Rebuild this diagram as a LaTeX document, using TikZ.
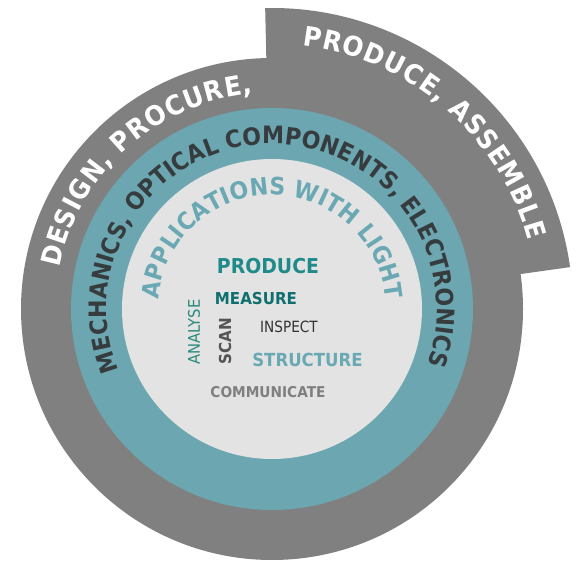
\documentclass[tikz,border=0pt]{standalone}
\usepackage{fontspec}
\setmainfont{DejaVu Sans}
\newfontfamily\cfam[FakeStretch=0.92]{DejaVu Sans}
\newfontfamily\nfam[FakeStretch=0.88]{DejaVu Sans}
\usetikzlibrary{decorations.text}
\definecolor{ringgray}{HTML}{808080}
\definecolor{ringteal}{HTML}{6BA6B1}
\definecolor{innergray}{HTML}{E3E3E3}
\definecolor{lighttext}{HTML}{6AA9B4}
\definecolor{darktext}{HTML}{363B3E}
\definecolor{tealA}{HTML}{1F8A8A}
\definecolor{tealB}{HTML}{0F6F6F}
\definecolor{tealC}{HTML}{2A8A7C}
\definecolor{scangray}{HTML}{555555}
\definecolor{inspgray}{HTML}{333333}
\definecolor{commgray}{HTML}{7F7F7F}
\begin{document}
\begin{tikzpicture}[x=1pt,y=1pt,
  arctext/.style={decorate, decoration={text along path, text align={fit to path}, #1}},
  word/.style={inner sep=0pt, outer sep=0pt}]
\useasboundingbox (0,0) rectangle (581,561);
\coordinate (c) at (272,252);
% rings
\fill[ringgray] (c) -- ++(8:301pt) arc[start angle=8, end angle=91.3, radius=301pt] -- cycle;
\fill[ringgray] (c) circle[radius=251pt];
\fill[ringteal] (c) circle[radius=201pt];
\fill[innergray] (c) circle[radius=150pt];
% curved texts
\path[arctext={text color=white, text={|\cfam\fontsize{27}{31}\selectfont\bfseries|DESIGN, PROCURE,}}]
  ([shift={(169:216pt)}]c) arc[start angle=169, end angle=95, radius=216pt];
\path[arctext={text color=white, text={|\cfam\fontsize{27}{31}\selectfont\bfseries|PRODUCE, ASSEMBLE}}]
  ([shift={(83.5:265pt)}]c) arc[start angle=83.5, end angle=15, radius=265pt];
\path[arctext={text color=darktext, text={|\cfam\fontsize{24}{28}\selectfont\bfseries|MECHANICS, OPTICAL COMPONENTS, ELECTRONICS}}]
  ([shift={(201.8:165pt)}]c) arc[start angle=201.8, end angle=-19.8, radius=165pt];
\path[arctext={text color=lighttext, text={|\cfam\fontsize{24}{28}\selectfont\bfseries|APPLICATIONS WITH LIGHT}}]
  ([shift={(175:114pt)}]c) arc[start angle=175, end angle=5, radius=114pt];
% inner words
\node[word, text=tealA, font=\cfam\fontsize{20.5}{24}\selectfont\bfseries] (produce) at (268,295) {PRODUCE};
\node[word, text=tealB, font=\cfam\fontsize{16.4}{19}\selectfont\bfseries] (measure) at (256,262.5) {MEASURE};
\node[word, text=tealC, font=\cfam\fontsize{16}{19}\selectfont, rotate=90] (analyse) at (194,229) {ANALYSE};
\node[word, text=scangray, font=\cfam\fontsize{16.5}{19}\selectfont\bfseries, rotate=90] (scan) at (225,220) {SCAN};
\node[word, text=inspgray, font=\nfam\fontsize{15.5}{18}\selectfont] (inspect) at (289,234) {INSPECT};
\node[word, text=lighttext, font=\cfam\fontsize{18}{21}\selectfont\bfseries] (structure) at (307.5,201.5) {STRUCTURE};
\node[word, text=commgray, font=\cfam\fontsize{14.9}{18}\selectfont\bfseries] (communicate) at (268,169) {COMMUNICATE};
\end{tikzpicture}
\end{document}
